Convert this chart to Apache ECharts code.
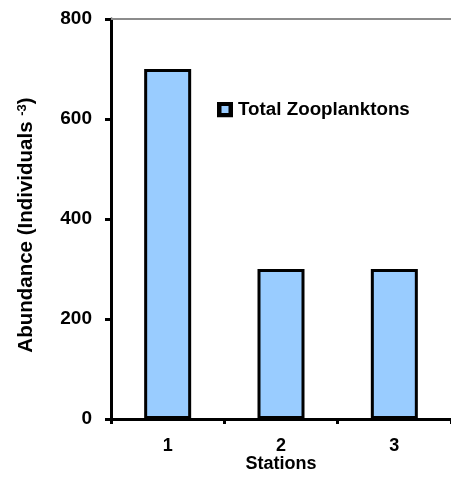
<!DOCTYPE html>
<html>
<head>
<meta charset="utf-8">
<style>html,body{margin:0;padding:0;background:#fff}#c{width:451px;height:483px}</style>
<script src="https://cdn.jsdelivr.net/npm/echarts@6/dist/echarts.min.js"></script>
</head>
<body>
<div id="c"></div>
<script>
var categories = ['1', '2', '3'];
var seriesName = 'Total Zooplanktons';
var values = [700, 300, 300];
var yTicks = [0, 200, 400, 600, 800];

var FONT = 'Liberation Sans, Arial, sans-serif';
var legendIcon = 'image://data:image/svg+xml;utf8,' + encodeURIComponent(
  '<svg xmlns="http://www.w3.org/2000/svg" width="16" height="16" viewBox="0 0 16 16">' +
  '<rect x="0" y="0" width="16" height="16" fill="#000"/>' +
  '<rect x="4.5" y="4.5" width="7" height="7" fill="#99CCFF"/></svg>');

var chart = echarts.init(document.getElementById('c'));
chart.setOption({
  animation: false,
  backgroundColor: '#fff',
  textStyle: { fontFamily: FONT },
  grid: { left: 111, top: 19, width: 342, height: 400 },
  legend: {
    left: 217, top: 100, padding: 0,
    itemWidth: 16, itemHeight: 16, itemGap: 5,
    data: [{ name: seriesName, icon: legendIcon }],
    textStyle: { fontFamily: FONT, fontWeight: 'bold', fontSize: 18.8, color: '#000' }
  },
  xAxis: [{
    type: 'category',
    data: categories,
    name: 'Stations',
    nameLocation: 'middle',
    nameGap: 36,
    nameMoveOverlap: false,
    nameTextStyle: { fontFamily: FONT, fontWeight: 'bold', fontSize: 18, color: '#000' },
    axisLine: { lineStyle: { color: '#000', width: 3 } },
    axisTick: { show: true, length: 5, lineStyle: { color: '#000', width: 3 } },
    axisLabel: { margin: 18, fontFamily: FONT, fontWeight: 'bold', fontSize: 18, color: '#000' }
  }, {
    type: 'category',
    data: categories,
    position: 'top',
    axisLine: { lineStyle: { color: '#8c8c8c', width: 2 } },
    axisTick: { show: false },
    axisLabel: { show: false }
  }],
  yAxis: {
    type: 'value',
    min: yTicks[0], max: yTicks[yTicks.length - 1], interval: 200,
    name: 'Abundance (Individuals {sup|-3})',
    nameLocation: 'middle',
    nameRotate: 90,
    nameGap: 74,
    nameTextStyle: {
      fontFamily: FONT, fontWeight: 'bold', fontSize: 20.5, color: '#000',
      padding: [0, 12, 0, 0],
      rich: { sup: { fontFamily: FONT, fontWeight: 'bold', fontSize: 13, color: '#000', verticalAlign: 'top', lineHeight: 13 } }
    },
    axisLine: { show: true, lineStyle: { color: '#000', width: 3 } },
    axisTick: { show: true, length: 6, lineStyle: { color: '#000', width: 3 } },
    splitLine: { show: false },
    axisLabel: { margin: 19, fontFamily: FONT, fontWeight: 'bold', fontSize: 19, color: '#000' }
  },
  series: [{
    name: seriesName,
    type: 'bar',
    xAxisIndex: 0,
    data: values,
    barWidth: 47,
    itemStyle: { color: '#99CCFF', borderColor: '#000', borderWidth: 3 }
  }]
});
</script>
</body>
</html>
